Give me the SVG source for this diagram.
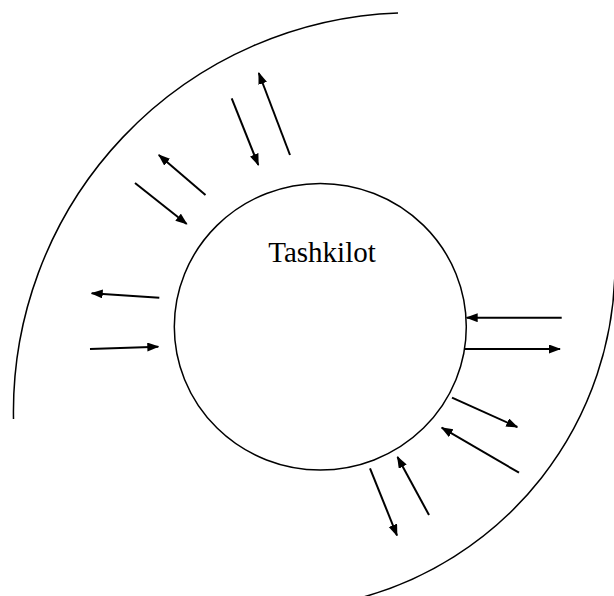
<svg xmlns="http://www.w3.org/2000/svg" width="614" height="596" viewBox="0 0 614 596">
  <style>
    .arc { fill: none; stroke: #000; stroke-width: 1.5; }
    .node { fill: #fff; stroke: #000; stroke-width: 1.5; }
    .label { font-family: "Liberation Serif", "Times New Roman", serif; font-size: 29px; fill: #000; }
    .arrow { fill: none; stroke: #000; stroke-width: 2; marker-end: url(#head); }
  </style>
  <defs>
    <marker id="head" markerUnits="userSpaceOnUse" markerWidth="12" markerHeight="10" refX="11" refY="4.5" orient="auto">
      <path d="M0,0 L12,4.5 L0,9 z" fill="#000"/>
    </marker>
  </defs>
  <rect width="614" height="596" fill="#fff"/>
  <g id="environment">
    <path class="arc" d="M 398 13 A 399 399 0 0 0 13.5 419"/>
    <path class="arc" d="M 615 265 A 345 345 0 0 1 352 600"/>
  </g>
  <g id="tashkilot">
    <ellipse class="node" cx="320.3" cy="326.7" rx="146" ry="143.3"/>
    <text class="label" x="322" y="262" text-anchor="middle">Tashkilot</text>
  </g>
  <g id="connectors">
    <line class="arrow" x1="231.7" y1="98.3" x2="258.3" y2="165"/>
    <line class="arrow" x1="290" y1="155" x2="258.8" y2="73"/>
    <line class="arrow" x1="205.5" y1="195" x2="158.8" y2="155"/>
    <line class="arrow" x1="135" y1="183" x2="186.7" y2="224"/>
    <line class="arrow" x1="159.3" y1="297.7" x2="91.7" y2="293.3"/>
    <line class="arrow" x1="90" y1="349" x2="158.3" y2="346.7"/>
    <line class="arrow" x1="561.7" y1="317.7" x2="466.7" y2="317.7"/>
    <line class="arrow" x1="465" y1="349" x2="560" y2="349"/>
    <line class="arrow" x1="452" y1="397.7" x2="517.3" y2="427"/>
    <line class="arrow" x1="519" y1="472.7" x2="441.7" y2="427.7"/>
    <line class="arrow" x1="370" y1="468.3" x2="397" y2="535.5"/>
    <line class="arrow" x1="429" y1="515" x2="397.5" y2="457"/>
  </g>
</svg>
